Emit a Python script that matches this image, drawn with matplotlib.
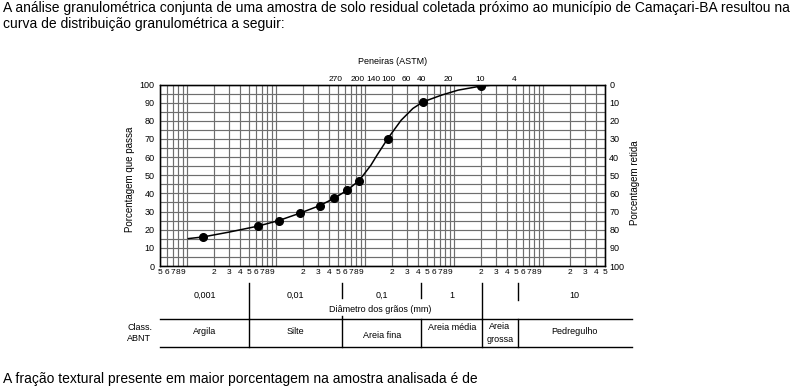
import matplotlib
matplotlib.use('Agg')
import matplotlib.pyplot as plt
from matplotlib.lines import Line2D
from matplotlib.ticker import NullLocator

plt.rcParams['font.family'] = ['Liberation Sans', 'DejaVu Sans']

# pontos do ensaio: diametro (mm) x % que passa
diam_pts = [0.00152, 0.00634, 0.01074, 0.01866, 0.0312, 0.0452, 0.0628, 0.0865, 0.181, 0.45, 2.0]
pass_pts = [16.0, 22.0, 25.0, 29.1, 33.3, 37.3, 41.6, 47.1, 70.2, 90.4, 99.1]

# curva desenhada
curve_diam = [0.00104, 0.00152, 0.003, 0.00634, 0.01074, 0.01866, 0.0312, 0.0452, 0.0628,
              0.0865, 0.117, 0.137, 0.181, 0.256, 0.347, 0.45, 0.723, 1.12, 2.0, 3.2]
curve_pass = [15.1, 16.0, 18.7, 22.0, 25.0, 29.1, 33.3, 37.3, 41.6,
              47.1, 55.5, 61.0, 70.2, 80.3, 86.8, 90.4, 94.1, 96.9, 99.1, 100.0]

# peneiras ASTM no eixo superior
sieve_labels = ['270', '200', '140', '100', '60', '40', '20', '10', '4']
sieve_diam = [0.047, 0.084, 0.125, 0.185, 0.29, 0.43, 0.86, 2.0, 4.8]

# escala de diametros e classificacao ABNT
scale_labels = ['0,001', '0,01', '0,1', '1', '', '10']
class_labels = ['Argila', 'Silte', 'Areia fina', 'Areia média', 'Areia\ngrossa', 'Pedregulho']
class_limits = [0.005, 0.056, 0.43, 2.1, 5.2]

text_top = ('A análise granulométrica conjunta de uma amostra de solo residual coletada próximo '
            'ao município de Camaçari-BA resultou na\ncurva de distribuição granulométrica a seguir:')
text_bottom = 'A fração textural presente em maior porcentagem na amostra analisada é de'

W, H = 794, 391
XMIN, XMAX = 0.0005, 50

def fx(px):
    return px / W

def fy(py):
    return 1 - py / H

fig = plt.figure(figsize=(W / 100, H / 100), dpi=100)
ax = fig.add_axes([fx(160), fy(266), 445 / W, 181.5 / H])

ax.set_xscale('log')
ax.set_xlim(XMIN, XMAX)
ax.set_ylim(0, 100)

# ticks inferiores: 5 6 7 8 9 | 2 ... 9 | ... | 2 3 4 5
xt, xl = [], []
for dec in [1e-4, 1e-3, 1e-2, 1e-1, 1, 10]:
    for m in range(1, 10):
        v = m * dec
        if v < XMIN * 0.999 or v > XMAX * 1.001:
            continue
        xt.append(v)
        xl.append('' if m == 1 else str(m))
ax.set_xticks(xt)
ax.set_xticklabels(xl)
ax.xaxis.set_minor_locator(NullLocator())
ax.set_yticks(range(0, 101, 10))
ax.set_yticks(range(5, 100, 10), minor=True)
ax.tick_params(which='both', length=0)
ax.tick_params(axis='x', labelsize=6, pad=2)
ax.tick_params(axis='y', labelsize=6.5, pad=4)
ax.grid(True, which='both', color='#6e6e6e', lw=0.85)
ax.set_axisbelow(True)
for s in ax.spines.values():
    s.set_linewidth(1.0)
    s.set_zorder(5)

ax.plot(curve_diam, curve_pass, color='black', lw=1.1, zorder=3)
ax.plot(diam_pts, pass_pts, 'o', color='black', ms=5.5, zorder=4)

# eixo direito: porcentagem retida
ax2 = ax.twinx()
ax2.set_ylim(100, 0)
ax2.set_yticks(range(0, 101, 10))
ax2.tick_params(length=0, labelsize=6.5, pad=3)

# eixo superior: peneiras
ax3 = ax.twiny()
ax3.set_xscale('log')
ax3.set_xlim(XMIN, XMAX)
ax3.set_xticks(sieve_diam)
ax3.set_xticklabels(sieve_labels)
ax3.xaxis.set_minor_locator(NullLocator())
ax3.tick_params(length=0, labelsize=6, pad=1)

fig.text(fx(393), fy(62), 'Peneiras (ASTM)', ha='center', va='center', fontsize=6.5)
fig.text(fx(130), fy(179), 'Porcentagem que passa', rotation=90, ha='center', va='center', fontsize=7)
fig.text(fx(635), fy(183), 'Porcentagem retida', rotation=90, ha='center', va='center', fontsize=7)

# tabela de classificacao abaixo do grafico
bx = [ax.transData.transform((v, 0))[0] for v in class_limits]
edges = [160] + bx + [632]
centers = [(edges[i] + edges[i + 1]) / 2 for i in range(len(edges) - 1)]

for y in [319, 347]:
    fig.add_artist(Line2D([fx(160), fx(632)], [fy(y), fy(y)], color='black', lw=1.0))
upper_end = [319, 298, 298, 319, 300]
lower_start = [319, 316, 319, 319, 319]
for x, ye, ys in zip(bx, upper_end, lower_start):
    fig.add_artist(Line2D([fx(x), fx(x)], [fy(283), fy(ye)], color='black', lw=1.0))
    fig.add_artist(Line2D([fx(x), fx(x)], [fy(ys), fy(347)], color='black', lw=1.0))

for c, lab in zip(centers, scale_labels):
    fig.text(fx(c), fy(295), lab, ha='center', va='center', fontsize=6.5)
fig.text(fx(380), fy(309), 'Diâmetro dos grãos (mm)', ha='center', va='center', fontsize=6.5)

class_y = [332, 331, 336, 328, 333, 331]
for c, lab, y in zip(centers, class_labels, class_y):
    fig.text(fx(c), fy(y), lab, ha='center', va='center', fontsize=6.5, linespacing=1.5)
fig.text(fx(127), fy(333), 'Class.\nABNT', ha='left', va='center', fontsize=6.5, linespacing=1.3)

fig.text(fx(3), fy(16), text_top, ha='left', va='center', fontsize=10, linespacing=1.1)
fig.text(fx(3), fy(379), text_bottom, ha='left', va='center', fontsize=10)

fig.savefig('out.png', dpi=100)
